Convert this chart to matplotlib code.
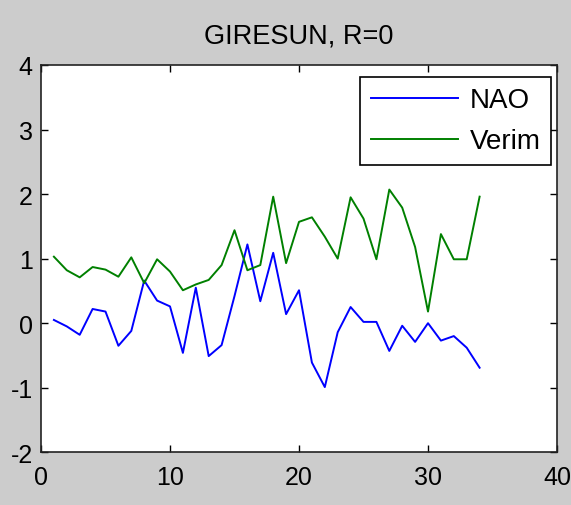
import matplotlib
matplotlib.use('Agg')
import matplotlib.pyplot as plt

matplotlib.rcParams['font.family'] = ['Liberation Sans', 'DejaVu Sans']
matplotlib.rcParams['axes.unicode_minus'] = False

# yearly index values, station 1..34
years = list(range(1, 35))
nao = [0.05, -0.05, -0.18, 0.22, 0.18, -0.35, -0.12, 0.66, 0.35, 0.26,
       -0.46, 0.55, -0.51, -0.34, 0.42, 1.22, 0.34, 1.09, 0.14, 0.51,
       -0.61, -0.99, -0.14, 0.25, 0.02, 0.02, -0.43, -0.04, -0.29, 0.0,
       -0.27, -0.20, -0.38, -0.69]
verim = [1.03, 0.82, 0.71, 0.87, 0.83, 0.72, 1.02, 0.62, 0.99, 0.80,
         0.51, 0.60, 0.67, 0.90, 1.44, 0.82, 0.90, 1.96, 0.93, 1.57,
         1.64, 1.34, 1.00, 1.95, 1.62, 0.99, 2.07, 1.79, 1.18, 0.18,
         1.38, 0.99, 0.99, 1.96]

xticks = [0, 10, 20, 30, 40]
yticks = [-2, -1, 0, 1, 2, 3, 4]

fig = plt.figure(figsize=(5.71, 5.06), dpi=100, facecolor='#cccccc')
ax = fig.add_axes([0.0718, 0.1042, 0.9037, 0.7654])
ax.set_facecolor('white')

ax.plot(years, nao, color='#0000ff', linewidth=1.4, label='NAO')
ax.plot(years, verim, color='#008000', linewidth=1.4, label='Verim')

ax.set_xlim(0, 40)
ax.set_ylim(-2, 4)
ax.set_xticks(xticks)
ax.set_yticks(yticks)
ax.tick_params(direction='in', length=5, width=1, labelsize=18,
               top=True, right=True, colors='black')
ax.tick_params(axis='x', pad=9)
ax.tick_params(axis='y', pad=6)
for s in ax.spines.values():
    s.set_linewidth(1.2)
    s.set_color('#222222')

ax.set_title('GIRESUN, R=0', fontsize=19.5, pad=16)

leg = ax.legend(loc='upper right', bbox_to_anchor=(0.9884, 0.9698),
                borderaxespad=0, fontsize=20, fancybox=False, shadow=False,
                framealpha=1, edgecolor='black', handlelength=3.15,
                handletextpad=0.4, borderpad=0.38, labelspacing=0.54)
leg.get_frame().set_linewidth(1.2)

fig.savefig('out.png', dpi=100, facecolor=fig.get_facecolor())
